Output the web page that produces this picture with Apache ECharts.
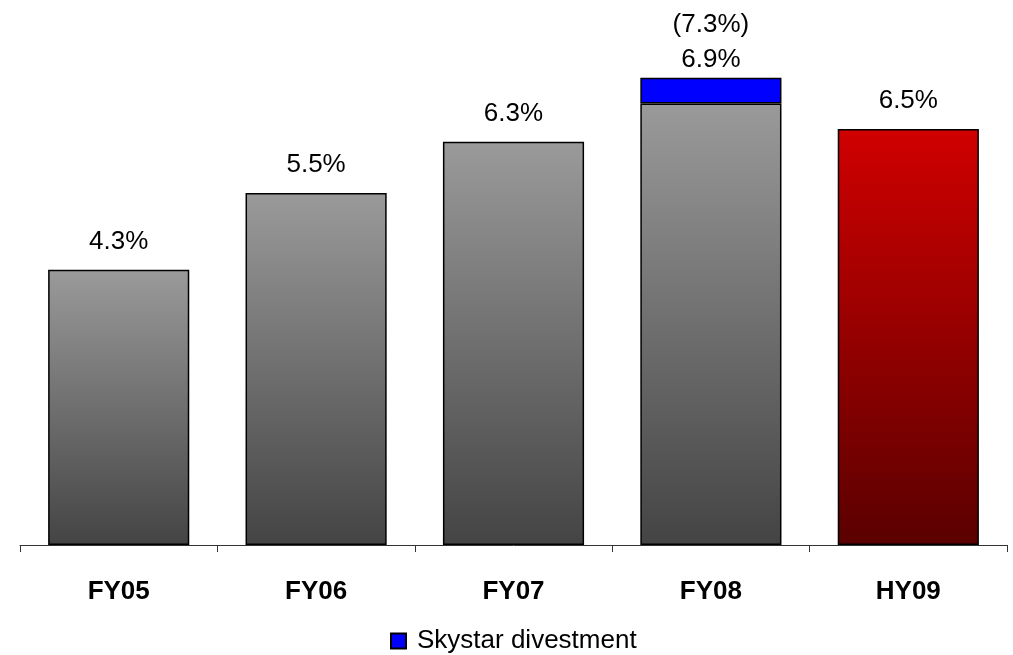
<!DOCTYPE html>
<html>
<head>
<meta charset="utf-8">
<script src="https://cdn.jsdelivr.net/npm/echarts@6/dist/echarts.min.js"></script>
<style>
  html, body { margin: 0; padding: 0; background: #fff; }
  #chart { width: 1013px; height: 655px; }
</style>
</head>
<body>
<div id="chart"></div>
<script>
// Operating margin by period
const categories = ['FY05', 'FY06', 'FY07', 'FY08', 'HY09'];
const coreMargin = [4.3, 5.5, 6.3, 6.9, 6.5];
// Extra margin from the Skystar divestment (FY08 only)
const divestment = [null, null, null, 0.4, null];
const highlightIndex = 4; // latest half-year drawn in red

const FONT = '"Liberation Sans", Arial, sans-serif';

const greyFill = new echarts.graphic.LinearGradient(0, 0, 0, 1, [
  { offset: 0, color: '#9a9a9a' },
  { offset: 1, color: '#444444' }
]);
const redFill = new echarts.graphic.LinearGradient(0, 0, 0, 1, [
  { offset: 0, color: '#d00000' },
  { offset: 1, color: '#5a0000' }
]);

const pct = v => v.toFixed(1) + '%';

const coreData = coreMargin.map((v, i) => {
  const hasExtra = divestment[i] != null;
  return {
    value: v,
    itemStyle: { color: i === highlightIndex ? redFill : greyFill },
    label: { show: !hasExtra }
  };
});

const extraData = divestment.map((v, i) => {
  if (v == null) return null;
  const total = coreMargin[i] + v;
  return {
    value: v,
    label: {
      show: true,
      formatter: '(' + pct(total) + ')\n' + pct(coreMargin[i])
    }
  };
});

const chart = echarts.init(document.getElementById('chart'), null, { renderer: 'canvas' });
chart.setOption({
  animation: false,
  backgroundColor: '#ffffff',
  grid: { left: 20, right: 6, top: 33, bottom: 110, containLabel: false },
  legend: {
    data: ['Skystar divestment'],
    left: 385,
    top: 623,
    itemWidth: 15,
    itemHeight: 15,
    itemGap: 8,
    icon: 'rect',
    textStyle: { fontFamily: FONT, fontSize: 26, color: '#000', padding: [0, 0, 0, 6] }
  },
  xAxis: {
    type: 'category',
    data: categories,
    boundaryGap: true,
    axisLine: { lineStyle: { color: '#333', width: 1 } },
    axisTick: { show: true, length: 7, lineStyle: { color: '#333' } },
    axisLabel: {
      fontFamily: FONT, fontSize: 26, fontWeight: 'bold', color: '#000', margin: 34
    }
  },
  yAxis: {
    type: 'value',
    min: 0,
    max: 8,
    show: false,
    splitLine: { show: false }
  },
  series: [
    {
      name: 'Operating margin',
      type: 'bar',
      stack: 'margin',
      barWidth: '71.5%',
      data: coreData,
      itemStyle: { borderColor: '#000', borderWidth: 1.5 },
      label: {
        position: 'top',
        distance: 15,
        fontFamily: FONT,
        fontSize: 26,
        color: '#000',
        formatter: p => pct(p.value)
      }
    },
    {
      name: 'Skystar divestment',
      type: 'bar',
      stack: 'margin',
      barWidth: '71.5%',
      data: extraData,
      itemStyle: { color: '#0000ff', borderColor: '#000', borderWidth: 1.5 },
      label: {
        position: 'top',
        distance: 0,
        fontFamily: FONT,
        fontSize: 26,
        lineHeight: 35,
        color: '#000'
      }
    }
  ]
});
</script>
</body>
</html>
